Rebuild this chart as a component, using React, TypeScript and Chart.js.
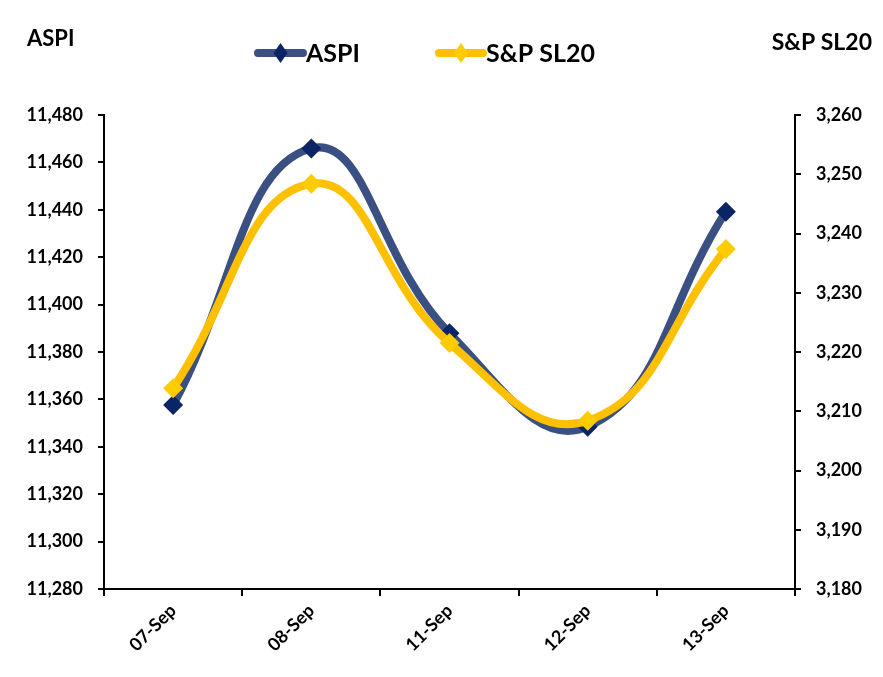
import React, { useEffect, useRef } from "react";
import { Chart, registerables } from "chart.js";

Chart.register(...registerables);

const categories = ["07-Sep", "08-Sep", "11-Sep", "12-Sep", "13-Sep"];
const aspiValues = [11357.6, 11465.9, 11387.9, 11348.5, 11439.2];
const slValues = [3213.9, 3248.4, 3221.5, 3208.4, 3237.4];
const leftTitle = "ASPI";
const rightTitle = "S&P SL20";
const aspiLabel = "ASPI";
const slLabel = "S&P SL20";

const FONT = "Lato, 'Open Sans', sans-serif";
const BLUE_LINE = "#3A4F82";
const BLUE_MARK = "#0B2466";
const YEL_LINE = "#FFC000";
const YEL_MARK = "#FFCC00";

const extrasPlugin = {
  id: "extras",
  afterDraw(chart: any) {
    const ctx = chart.ctx;
    ctx.save();
    ctx.fillStyle = "#000";
    ctx.font = `bold 22px ${FONT}`;
    ctx.textBaseline = "middle";
    ctx.textAlign = "left";
    ctx.fillText(leftTitle, 19, 31);
    ctx.font = `bold 23px ${FONT}`;
    ctx.textAlign = "right";
    ctx.fillText(rightTitle, 864, 35);

    const drawItem = (x0: number, x1: number, y: number, lineCol: string, markCol: string, text: string) => {
      ctx.strokeStyle = lineCol;
      ctx.lineWidth = 8;
      ctx.lineCap = "round";
      ctx.beginPath();
      ctx.moveTo(x0, y);
      ctx.lineTo(x1, y);
      ctx.stroke();
      ctx.fillStyle = markCol;
      const cx = (x0 + x1) / 2;
      ctx.beginPath();
      ctx.moveTo(cx, y - 10);
      ctx.lineTo(cx + 7, y);
      ctx.lineTo(cx, y + 10);
      ctx.lineTo(cx - 7, y);
      ctx.closePath();
      ctx.fill();
      ctx.fillStyle = "#000";
      ctx.font = `bold 25px ${FONT}`;
      ctx.textAlign = "left";
      ctx.textBaseline = "middle";
      ctx.fillText(text, x1 + 3, y + 1);
    };
    drawItem(250, 295, 45, BLUE_LINE, BLUE_MARK, aspiLabel);
    drawItem(431, 475, 45, YEL_LINE, YEL_MARK, slLabel);
    ctx.restore();
  },
};

export default function App() {
  const ref = useRef<HTMLCanvasElement | null>(null);
  useEffect(() => {
    if (!ref.current) return;
    const tickFont = { family: FONT, size: 18, weight: "bold" as const };
    const chart = new Chart(ref.current, {
      type: "line",
      data: {
        labels: categories,
        datasets: [
          {
            label: aspiLabel,
            data: aspiValues,
            yAxisID: "y",
            borderColor: BLUE_LINE,
            backgroundColor: BLUE_MARK,
            borderWidth: 8,
            tension: 0.45,
            pointStyle: "rectRot",
            pointRadius: 10,
            pointBackgroundColor: BLUE_MARK,
            pointBorderWidth: 0,
            order: 2,
          },
          {
            label: slLabel,
            data: slValues,
            yAxisID: "y1",
            borderColor: YEL_LINE,
            backgroundColor: YEL_MARK,
            borderWidth: 8,
            tension: 0.45,
            pointStyle: "rectRot",
            pointRadius: 10,
            pointBackgroundColor: YEL_MARK,
            pointBorderWidth: 0,
            order: 1,
          },
        ],
      },
      options: {
        animation: false,
        responsive: false,
        maintainAspectRatio: false,
        layout: { padding: { top: 107, left: 0, right: 0, bottom: 0 } },
        plugins: { legend: { display: false }, tooltip: { enabled: false } },
        scales: {
          x: {
            offset: true,
            grid: { drawOnChartArea: false, offset: true, color: "#000", tickLength: 7, lineWidth: 2 },
            border: { color: "#000", width: 2 },
            ticks: { color: "#000", font: tickFont, maxRotation: 45, minRotation: 45, padding: 4 },
            afterFit: (s: any) => { s.height = 80; },
          },
          y: {
            position: "left",
            min: 11280,
            max: 11480,
            grid: { drawOnChartArea: false, color: "#000", tickLength: 6, lineWidth: 2 },
            border: { color: "#000", width: 2 },
            ticks: {
              stepSize: 20,
              color: "#000",
              font: tickFont,
              padding: 15,
              callback: (v: any) => Number(v).toLocaleString("en-US"),
            },
            afterFit: (s: any) => { s.width = 96; },
          },
          y1: {
            position: "right",
            min: 3180,
            max: 3260,
            grid: { drawOnChartArea: false, color: "#000", tickLength: 6, lineWidth: 2 },
            border: { color: "#000", width: 2 },
            ticks: {
              stepSize: 10,
              color: "#000",
              font: tickFont,
              padding: 15,
              callback: (v: any) => Number(v).toLocaleString("en-US"),
            },
            afterFit: (s: any) => { s.width = 80; },
          },
        },
      },
      plugins: [extrasPlugin],
    });
    return () => chart.destroy();
  }, []);
  return (
    <div style={{ width: 867, height: 661 }}>
      <canvas ref={ref} width={867} height={661} style={{ width: 867, height: 661 }} />
    </div>
  );
}
